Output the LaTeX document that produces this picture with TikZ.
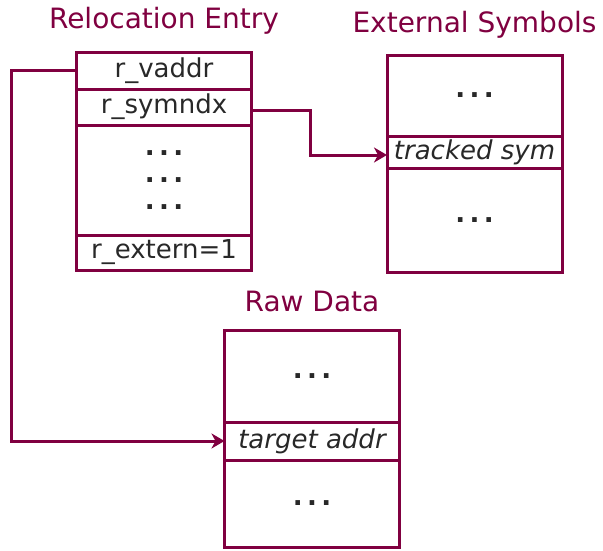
\documentclass[tikz,border=0pt]{standalone}
\usepackage{fontspec}
\setmainfont{DejaVu Sans}
\usepackage{tikz}
\usetikzlibrary{shapes,arrows,arrows.meta,positioning}
\definecolor{maroon}{RGB}{128,0,64}
\definecolor{ink}{RGB}{40,40,40}
\tikzstyle{field} = [draw=maroon,line width=3pt,rectangle,inner sep=0,outer sep=0,minimum width=\rw,text=ink,font=\fontsize{26}{27}\selectfont,align=center]
\tikzstyle{title} = [inner sep=0,text=maroon,font=\fontsize{28}{29}\selectfont]
\tikzstyle{link} = [-{Stealth[length=13pt,width=15pt,inset=4pt]},draw=maroon,line width=3pt]
\def \rw {175pt}
\def \etc {\textbf{.\,.\,.}}

\begin{document}
\begin{tikzpicture}[x=1pt,y=1pt,node distance=0pt]
      \useasboundingbox (0,0) rectangle (603,-550);
      % relocation entry
      \node[field,minimum height=37pt] (vaddr) at (164,-70.5) {r\_vaddr};
      \node[field,minimum height=36pt,below=of vaddr] (symndx) {r\_symndx};
      \node[field,minimum height=110pt,below=of symndx] (rdots) {\etc\\\etc\\\etc};
      \node[field,minimum height=35pt,below=of rdots] (extern) {r\_extern=1};
      \node[title,above=17pt of vaddr] (rtitle) {Relocation Entry};
      % external symbols
      \node[field,minimum height=81pt] (stop) at (474.5,-95.5) {\etc};
      \node[field,minimum height=32pt,below=of stop] (tracked) {\itshape tracked sym};
      \node[field,minimum height=104pt,below=of tracked] (sbot) {\etc};
      \node[title,above=16pt of stop] (stitle) {External Symbols};
      % raw data
      \node[field,minimum height=92pt] (dtop) at (312,-376) {\etc};
      \node[field,minimum height=38pt,below=of dtop] (target) {\itshape target addr};
      \node[field,minimum height=87pt,below=of target] (dbot) {\etc};
      \node[title,above=18pt of dtop] (dtitle) {Raw Data};
      % pointers
      \draw[link] (vaddr.west) -- ++(-65,0) |- (target.west);
      \draw[link] ([yshift=-3pt]symndx.east) -- ++(59,0) |- ([yshift=-3pt]tracked.west);
    \end{tikzpicture}
\end{document}
